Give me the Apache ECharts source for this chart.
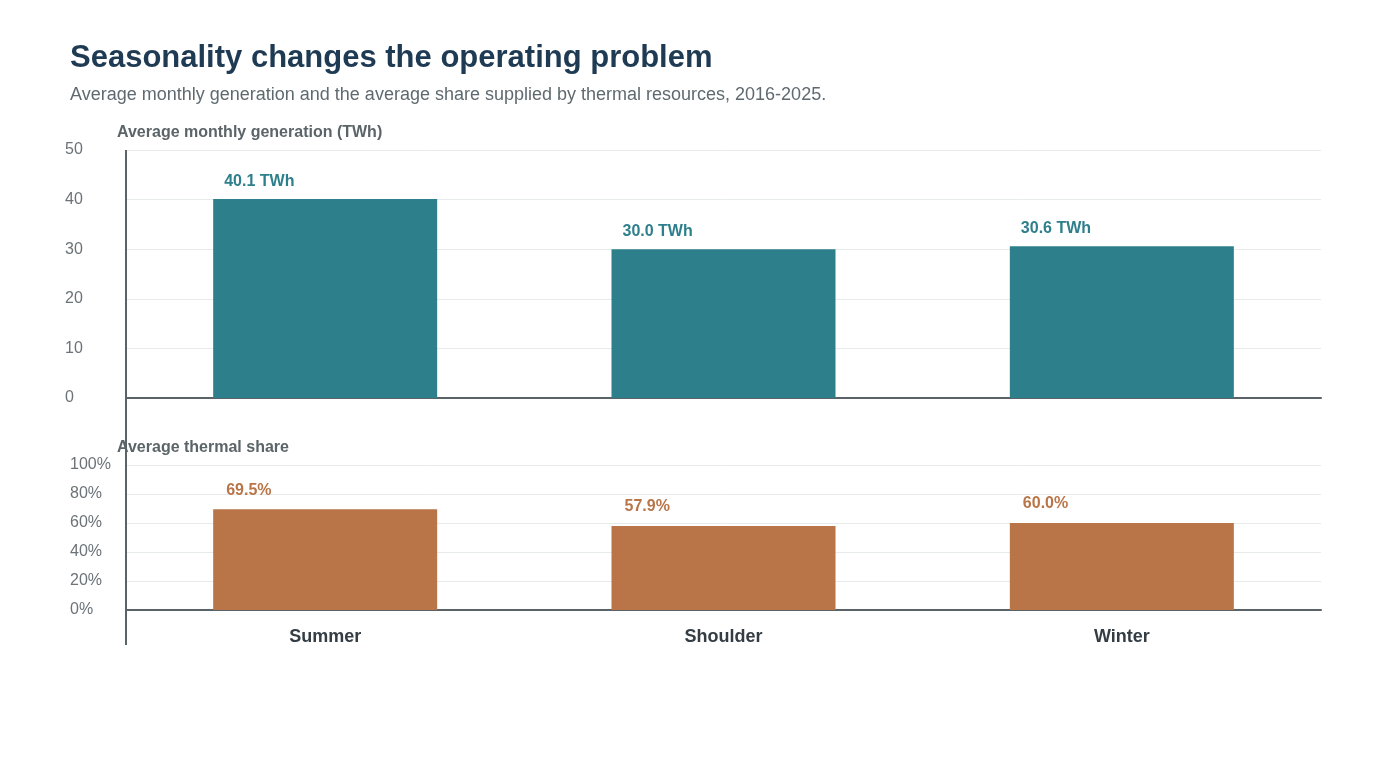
<!DOCTYPE html>
<html>
<head>
<meta charset="utf-8">
<style>
  html, body { margin: 0; padding: 0; background: #fff; }
  #seasonChart { width: 1400px; height: 760px; }
</style>
<script src="https://cdn.jsdelivr.net/npm/echarts@6/dist/echarts.min.js"></script>
</head>
<body>
<div id="seasonChart"></div>
<script>
// seasons on the x axis
const seasons = ['Summer', 'Shoulder', 'Winter']
// average monthly generation, TWh
const generationTWh = [40.1, 30.0, 30.6]
// average thermal share, %
const thermalShare = [69.5, 57.9, 60.0]
// tick values
const genTicks = [0, 10, 20, 30, 40, 50]
const shareTicks = ['0%', '20%', '40%', '60%', '80%', '100%']

const FONT = '"Liberation Sans", Arial, Helvetica, sans-serif'
const AXIS_DARK = '#5a6468'
const GRID_LINE = '#e6eaeb'

let chart = echarts.init(document.getElementById('seasonChart'))

let option = {
  backgroundColor: '#ffffff',
  textStyle: { fontFamily: FONT },
  title: [
    {
      text: 'Seasonality changes the operating problem',
      subtext: 'Average monthly generation and the average share supplied by thermal resources, 2016-2025.',
      left: 65,
      top: 38,
      itemGap: 12,
      textStyle: { fontFamily: FONT, fontSize: 31, fontWeight: 'bold', color: '#1f3b54' },
      subtextStyle: { fontFamily: FONT, fontSize: 18, color: '#5f6a70' }
    },
    {
      text: 'Average monthly generation (TWh)',
      left: 112,
      top: 120,
      textStyle: { fontFamily: FONT, fontSize: 16, fontWeight: 'bold', color: '#5b6468' }
    },
    {
      text: 'Average thermal share',
      left: 112,
      top: 435,
      textStyle: { fontFamily: FONT, fontSize: 16, fontWeight: 'bold', color: '#5b6468' }
    }
  ],
  grid: [
    { left: 126, right: 79, top: 150, height: 248 },
    { left: 126, right: 79, top: 465, height: 145 }
  ],
  xAxis: [
    {
      type: 'category',
      gridIndex: 0,
      data: seasons,
      axisLine: { lineStyle: { color: AXIS_DARK, width: 2 } },
      axisTick: { show: false },
      axisLabel: { show: false }
    },
    {
      type: 'category',
      gridIndex: 1,
      data: seasons,
      axisLine: { lineStyle: { color: AXIS_DARK, width: 2 } },
      axisTick: { show: false },
      axisLabel: {
        margin: 18,
        fontFamily: FONT,
        fontSize: 18,
        fontWeight: 'bold',
        color: '#343d44'
      }
    }
  ],
  yAxis: [
    {
      type: 'value',
      gridIndex: 0,
      min: genTicks[0],
      max: genTicks[genTicks.length - 1],
      interval: 10,
      axisLine: { show: false },
      axisTick: { show: false },
      splitLine: { lineStyle: { color: GRID_LINE, width: 1 } },
      axisLabel: {
        align: 'left',
        margin: 61,
        fontFamily: FONT,
        fontSize: 16,
        color: '#6b7378'
      }
    },
    {
      type: 'value',
      gridIndex: 1,
      min: 0,
      max: 100,
      interval: 20,
      axisLine: { show: false },
      axisTick: { show: false },
      splitLine: { lineStyle: { color: GRID_LINE, width: 1 } },
      axisLabel: {
        align: 'left',
        margin: 56,
        fontFamily: FONT,
        fontSize: 16,
        color: '#6b7378',
        formatter: (v) => shareTicks[Math.round(v / 20)]
      }
    }
  ],
  series: [
    {
      name: 'Generation',
      type: 'bar',
      xAxisIndex: 0,
      yAxisIndex: 0,
      data: generationTWh,
      barWidth: 224,
      itemStyle: { color: '#2e7f8c' },
      label: {
        show: true,
        position: [11, -26],
        fontFamily: FONT,
        fontSize: 16,
        fontWeight: 'bold',
        color: '#2e7f8c',
        formatter: (p) => p.value.toFixed(1) + ' TWh'
      }
    },
    {
      name: 'Thermal share',
      type: 'bar',
      xAxisIndex: 1,
      yAxisIndex: 1,
      data: thermalShare,
      barWidth: 224,
      itemStyle: { color: '#b97548' },
      label: {
        show: true,
        position: [13, -27],
        fontFamily: FONT,
        fontSize: 16,
        fontWeight: 'bold',
        color: '#b97548',
        formatter: (p) => p.value.toFixed(1) + '%'
      }
    }
  ],
  // shared left spine running through both panels
  graphic: [
    {
      type: 'line',
      shape: { x1: 126, y1: 150, x2: 126, y2: 645 },
      style: { stroke: AXIS_DARK, lineWidth: 2 },
      z: 10
    }
  ]
}

chart.setOption(option)
</script>
</body>
</html>
